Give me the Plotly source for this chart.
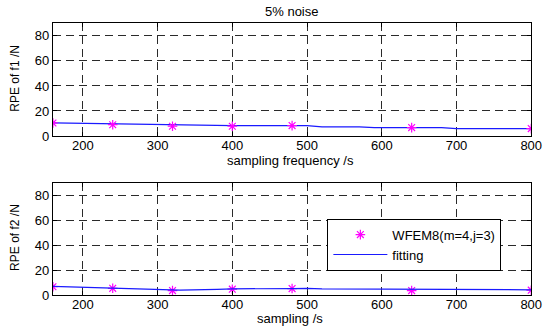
import plotly.graph_objects as go

# sampling frequencies with WFEM8 estimates
freq = [160, 240, 320, 400, 480, 640, 800]
rpe_f1 = [10.4, 9.0, 7.8, 7.8, 8.3, 6.7, 5.9]
rpe_f2 = [6.7, 5.4, 3.6, 4.7, 5.2, 3.6, 3.9]

# fitted curves
fit1_x = [160, 200, 230, 270, 300, 400, 500, 520, 570, 590, 680, 700, 800]
fit1_y = [10.5, 10.1, 9.9, 9.2, 8.8, 8.3, 8.2, 7.3, 7.2, 6.7, 6.6, 5.9, 5.8]
fit2_x = [160, 200, 240, 300, 330, 380, 400, 480, 500, 520, 570, 590, 800]
fit2_y = [6.9, 6.3, 5.5, 4.2, 3.9, 4.5, 5.0, 5.2, 5.4, 5.0, 4.9, 4.3, 4.2]

x_ticks = [200, 300, 400, 500, 600, 700, 800]
y_ticks = [0, 20, 40, 60, 80]

W, H = 554, 334
FONT = "Liberation Sans, Arial, sans-serif"
MAGENTA = "#ff00ff"
BLUE = "#1a1aff"

star = dict(symbol="asterisk-open", size=8, color=MAGENTA, line=dict(color=MAGENTA, width=1.2))

fig = go.Figure()

# top panel
fig.add_trace(go.Scatter(x=fit1_x, y=fit1_y, mode="lines", line=dict(color=BLUE, width=1.2),
                         showlegend=False, xaxis="x", yaxis="y"))
fig.add_trace(go.Scatter(x=freq, y=rpe_f1, mode="markers", marker=star,
                         showlegend=False, xaxis="x", yaxis="y"))

# bottom panel
fig.add_trace(go.Scatter(x=freq, y=rpe_f2, mode="markers", name="WFEM8(m=4,j=3)",
                         marker=star, xaxis="x2", yaxis="y2"))
fig.add_trace(go.Scatter(x=fit2_x, y=fit2_y, mode="lines", name="fitting",
                         line=dict(color=BLUE, width=1.2), xaxis="x2", yaxis="y2"))

xdom = [54 / W, 542 / W]
axis_common = dict(
    showline=True, linecolor="black", linewidth=1, mirror="ticks",
    ticks="inside", ticklen=4, tickcolor="black",
    showgrid=True, gridcolor="#2a2a2a", gridwidth=1, griddash="8px,5px",
    zeroline=False, tickfont=dict(family=FONT, size=13, color="black"),
)

fig.update_layout(
    width=W, height=H,
    margin=dict(l=0, r=0, t=0, b=0),
    paper_bgcolor="white", plot_bgcolor="white",
    xaxis=dict(domain=xdom, range=[160, 800], tickvals=x_ticks, anchor="y", ticklabelstandoff=-3, **axis_common),
    yaxis=dict(domain=[1 - 139.3 / H, 1 - 24 / H], range=[0, 90], tickvals=y_ticks, anchor="x", **axis_common),
    xaxis2=dict(domain=xdom, range=[160, 800], tickvals=x_ticks, anchor="y2", ticklabelstandoff=-3, **axis_common),
    yaxis2=dict(domain=[1 - 302.3 / H, 1 - 187.3 / H], range=[0, 90], tickvals=y_ticks, anchor="x2", **axis_common),
    legend=dict(x=334 / W, y=1 - 224 / H, xanchor="left", yanchor="top",
                bordercolor="black", borderwidth=1, bgcolor="white",
                font=dict(family=FONT, size=13, color="black"),
                tracegroupgap=0, itemwidth=54),
    showlegend=True,
)

def note(text, x, y, angle=0, size=13):
    fig.add_annotation(text=text, x=x / W, y=1 - y / H, xref="paper", yref="paper",
                       xanchor="center", yanchor="middle",
                       showarrow=False, textangle=angle,
                       font=dict(family=FONT, size=size, color="black"))

note("5% noise", 297, 12)
note("sampling frequency /s", 296, 164)
note("sampling /s", 296, 326)
note("RPE of f1 /N", 15, 80, -90, 12)
note("RPE of f2 /N", 15, 243, -90, 12)

fig.write_html("out.html")
